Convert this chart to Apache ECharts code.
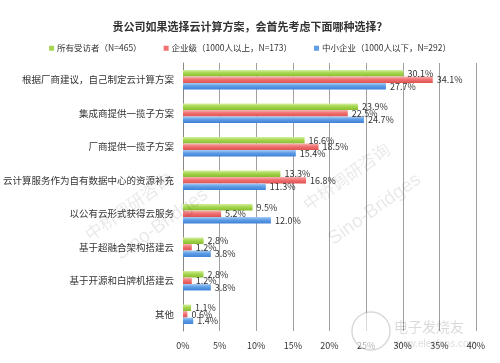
<!DOCTYPE html>
<html><head><meta charset="utf-8">
<script src="https://cdn.jsdelivr.net/npm/echarts@6/dist/echarts.min.js"></script>
<style>html,body{margin:0;padding:0;background:#fff}#c{width:500px;height:363px}</style>
</head><body><div id="c"></div>
<script>
var categories = ['根据厂商建议，自己制定云计算方案','集成商提供一揽子方案','厂商提供一揽子方案','云计算服务作为自有数据中心的资源补充','以公有云形式获得云服务','基于超融合架构搭建云','基于开源和白牌机搭建云','其他'];
var allRespondents = [30.1, 23.9, 16.6, 13.3, 9.5, 2.8, 2.8, 1.1];
var enterprise = [34.1, 22.5, 18.5, 16.8, 5.2, 1.2, 1.2, 0.6];
var smb = [27.7, 24.7, 15.4, 11.3, 12.0, 3.8, 3.8, 1.4];
var seriesNames = ['所有受访者（N=465）','企业级（1000人以上，N=173）','中小企业（1000人以下，N=292）'];
var title = '贵公司如果选择云计算方案，会首先考虑下面哪种选择？';

var font = '"Noto Sans CJK SC", "Liberation Sans", sans-serif';
function grad(top, mid, bot) {
  return new echarts.graphic.LinearGradient(0,0,0,1,[{offset:0,color:top},{offset:0.45,color:mid},{offset:1,color:bot}]);
}
var colors = [grad('#d4efa0','#a6d64e','#86bd2f'), grad('#f9b3b3','#f07272','#e05050'), grad('#a9cdf5','#5f9ee6','#3f80d6')];
var legendColors = ['#a6d64e','#f07272','#5f9ee6'];
var data = [allRespondents, enterprise, smb];
var chart = echarts.init(document.getElementById('c'));
var series = data.map(function(d,i){
  return {
    name: seriesNames[i], type:'bar', data:d, barCategoryGap:'42%', barGap:'0%',
    itemStyle:{color:colors[i]},
    label:{show:true, position:'right', distance:4, formatter:function(p){return p.value.toFixed(1)+'%';}, fontSize:9, color:'#333', fontFamily:font},
    animation:false
  };
});
chart.setOption({
  animation:false,
  title:{text:title, left:'center', top:16, textStyle:{fontSize:11, fontWeight:'bold', color:'#333', fontFamily:font}},
  legend:{top:39, left:'center', itemWidth:5, itemHeight:5, itemGap:22, icon:'rect',
    data: seriesNames.map(function(n,i){return {name:n, itemStyle:{color:legendColors[i]}};}),
    textStyle:{fontSize:8.5, color:'#333', fontFamily:font, padding:[0,0,0,-2]}},
  grid:{left:182, right:24, top:63, bottom:32},
  xAxis:{type:'value', min:0, max:40, interval:5,
    axisLabel:{formatter:'{value}%', fontSize:9, color:'#333', fontFamily:font, margin:10},
    axisLine:{show:false}, axisTick:{show:false},
    splitLine:{lineStyle:{color:'#a0a0a0', width:1}}},
  yAxis:{type:'category', data:categories, inverse:true,
    axisLabel:{fontSize:9.5, color:'#333', fontFamily:font, margin:9},
    axisLine:{lineStyle:{color:'#888'}}, axisTick:{length:4, lineStyle:{color:'#888'}}},
  series: series,
  graphic:[
    {type:'text', left:82, top:170, rotation:0.62, style:{text:'中桥调研咨询', fontSize:17, fill:'rgba(0,0,0,0.09)', fontFamily:font}, z:100},
    {type:'text', left:112, top:185, rotation:0.62, style:{text:'Sino-Bridges', fontSize:19, fill:'rgba(0,0,0,0.09)', fontFamily:'Liberation Sans'}, z:100},
    {type:'text', left:300, top:140, rotation:0.62, style:{text:'中桥调研咨询', fontSize:17, fill:'rgba(0,0,0,0.09)', fontFamily:font}, z:100},
    {type:'text', left:325, top:170, rotation:0.62, style:{text:'Sino-Bridges', fontSize:19, fill:'rgba(0,0,0,0.09)', fontFamily:'Liberation Sans'}, z:100},
    {type:'circle', shape:{cx:371, cy:331, r:19}, style:{fill:'rgba(255,255,255,0.6)', stroke:'rgba(0,0,0,0.15)', lineWidth:1.5}, z:100},
    {type:'text', left:394, top:320, style:{text:'电子发烧友', fontSize:14, fill:'rgba(0,0,0,0.15)', fontFamily:font}, z:100},
    {type:'text', left:394, top:339, style:{text:'www.elecfans.com', fontSize:10, fill:'rgba(0,0,0,0.15)', fontFamily:'Liberation Sans'}, z:100}
  ]
});
</script></body></html>
